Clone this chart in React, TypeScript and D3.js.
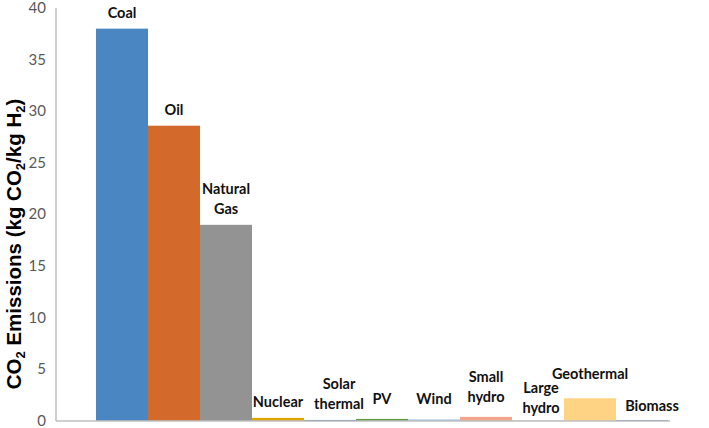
import React from 'react';
import * as d3 from 'd3';

// chart data
const categories = ['Coal', 'Oil', 'Natural Gas', 'Nuclear', 'Solar thermal', 'PV', 'Wind', 'Small hydro', 'Large hydro', 'Geothermal', 'Biomass'];
const emissions = [38.0, 28.6, 19.0, 0.3, 0.1, 0.2, 0.15, 0.4, 0.03, 2.2, 0.1];
const labelLines = [['Coal'], ['Oil'], ['Natural', 'Gas'], ['Nuclear'], ['Solar', 'thermal'], ['PV'], ['Wind'], ['Small', 'hydro'], ['Large', 'hydro'], ['Geothermal'], ['Biomass']];
const yTicks = [0, 5, 10, 15, 20, 25, 30, 35, 40];

const barColors = ['#4a86c1', '#d3692b', '#939393', '#e0a400', '#3f6cb6', '#5c9a3d', '#9dc3e6', '#f2a58a', '#a5a5a5', '#ffd384', '#6f8fc9'];

// manual nudges of the data labels (as they were dragged in the original)
const labelNudge: Record<string, [number, number]> = {
  'Solar thermal': [9, 0],
  PV: [0, -4],
  Wind: [0, -4],
  'Small hydro': [0, -4],
  'Large hydro': [3, 3],
  Geothermal: [0, -8],
  Biomass: [10, 2],
};

const W = 709;
const H = 428;
const axisX = 56;
const axisRight = 670;

const App = () => {
  const x = d3.scaleBand<string>().domain(categories).range([96, 668]).padding(0);
  const y = d3.scaleLinear().domain([0, 40]).range([421, 8]);

  return (
    <svg width={W} height={H} style={{ position: 'absolute', left: 0, top: 0, background: '#fff' }}>
      {/* bars */}
      {categories.map((c, i) => (
        <rect
          key={c}
          x={x(c)}
          y={y(emissions[i])}
          width={x.bandwidth()}
          height={y(0) - y(emissions[i])}
          fill={barColors[i]}
        />
      ))}

      {/* axes */}
      <line x1={axisX} x2={axisX} y1={y(40)} y2={y(0)} stroke="#bfbfbf" strokeWidth={1.5} />
      <line x1={axisX} x2={axisRight} y1={y(0)} y2={y(0)} stroke="#bfbfbf" strokeWidth={1.5} />

      {yTicks.map((t) => (
        <text key={t} x={46} y={y(t)} dy="0.33em" textAnchor="end" fontFamily="Lato" fontSize={15} fill="#595959">
          {t}
        </text>
      ))}

      {/* data labels */}
      {categories.map((c, i) => {
        const [dx, dy] = labelNudge[c] || [0, 0];
        const lines = labelLines[i];
        const base = y(emissions[i]) - 11 + dy;
        const cx = (x(c) as number) + x.bandwidth() / 2 + dx;
        return (
          <text key={c} textAnchor="middle" fontFamily="Lato" fontWeight="bold" fontSize={14.5} fill="#111">
            {lines.map((l, j) => (
              <tspan key={j} x={cx} y={base - (lines.length - 1 - j) * 20}>
                {l}
              </tspan>
            ))}
          </text>
        );
      })}

      {/* y axis title */}
      <text
        transform={`translate(21,244) rotate(-90)`}
        textAnchor="middle"
        fontFamily="Liberation Sans"
        fontWeight="bold"
        fontSize={20.5}
        fill="#000"
      >
        CO<tspan fontSize={13} dy={4}>2</tspan>
        <tspan dy={-4}> Emissions (kg CO</tspan>
        <tspan fontSize={13} dy={4}>2</tspan>
        <tspan dy={-4}>/kg H</tspan>
        <tspan fontSize={13} dy={4}>2</tspan>
        <tspan dy={-4}>)</tspan>
      </text>
    </svg>
  );
};

export default App;
